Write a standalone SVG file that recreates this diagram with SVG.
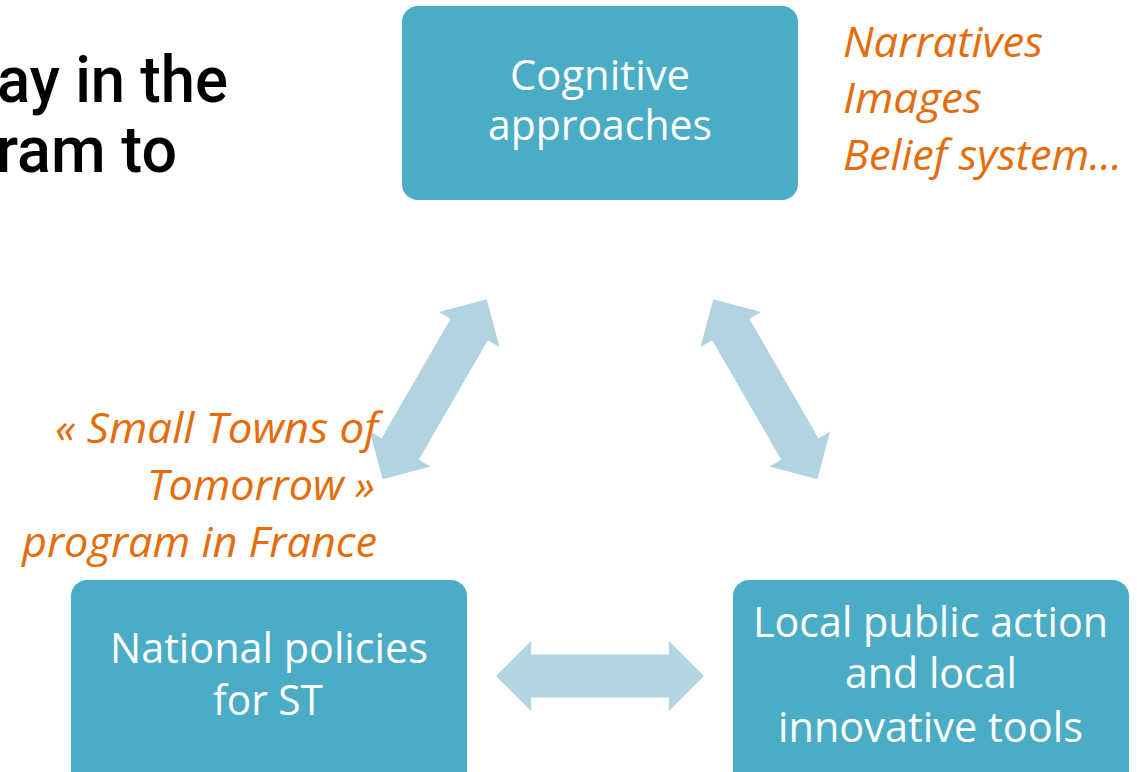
<svg xmlns="http://www.w3.org/2000/svg" width="1137" height="772" viewBox="0 0 1137 772">
<defs>
<style>
.box{fill:#4BACC6}
.bt{font-family:"Open Sans","Noto Sans",sans-serif;font-size:42px;fill:#FFFFFF}
.or{font-family:"Open Sans","Noto Sans",sans-serif;font-size:42px;font-style:italic;fill:#E46C0A}
.title{font-family:Roboto,"Liberation Sans",sans-serif;font-size:64px;font-weight:500;fill:#000000}
.arr{fill:#B1D4E0}
</style>
<polygon id="dbl" points="104,0 69,35 69,21.5 -69,21.5 -69,35 -104,0 -69,-35 -69,-21.5 69,-21.5 69,-35"/>
</defs>
<rect width="1137" height="772" fill="#FFFFFF"/>
<g id="title">
<text class="title" x="-3" y="102" textLength="231" lengthAdjust="spacingAndGlyphs">ay in the</text>
<text class="title" x="-4" y="172" textLength="181" lengthAdjust="spacingAndGlyphs">ram to</text>
</g>
<g id="connectors">
<use href="#dbl" class="arr" transform="translate(434.7,389.3) rotate(-60)"/>
<use href="#dbl" class="arr" transform="translate(765.3,389.3) rotate(60)"/>
<use href="#dbl" class="arr" transform="translate(600,676)"/>
</g>
<g id="node-cognitive">
<rect class="box" x="402" y="6" width="396" height="194" rx="16"/>
<text class="bt" x="510" y="90" textLength="180" lengthAdjust="spacingAndGlyphs">Cognitive</text>
<text class="bt" x="488" y="140" textLength="224" lengthAdjust="spacingAndGlyphs">approaches</text>
</g>
<g id="node-national">
<rect class="box" x="71" y="580" width="396" height="215" rx="16"/>
<text class="bt" x="110" y="663" textLength="318" lengthAdjust="spacingAndGlyphs">National policies</text>
<text class="bt" x="213" y="715" textLength="110" lengthAdjust="spacingAndGlyphs">for ST</text>
</g>
<g id="node-local">
<rect class="box" x="733" y="580" width="396" height="215" rx="16"/>
<text class="bt" x="753" y="637" textLength="355" lengthAdjust="spacingAndGlyphs">Local public action</text>
<text class="bt" x="845" y="688" textLength="172" lengthAdjust="spacingAndGlyphs">and local</text>
<text class="bt" x="778" y="742" textLength="305" lengthAdjust="spacingAndGlyphs">innovative tools</text>
</g>
<g id="note-cognitive">
<text class="or" x="843" y="57" textLength="200" lengthAdjust="spacingAndGlyphs">Narratives</text>
<text class="or" x="843" y="113" textLength="139" lengthAdjust="spacingAndGlyphs">Images</text>
<text class="or" x="843" y="170" textLength="279" lengthAdjust="spacingAndGlyphs">Belief system…</text>
</g>
<g id="note-national">
<text class="or" x="55" y="443" textLength="323" lengthAdjust="spacingAndGlyphs">« Small Towns of</text>
<text class="or" x="147" y="500" textLength="228" lengthAdjust="spacingAndGlyphs">Tomorrow »</text>
<text class="or" x="22" y="557" textLength="355" lengthAdjust="spacingAndGlyphs">program in France</text>
</g>
</svg>
